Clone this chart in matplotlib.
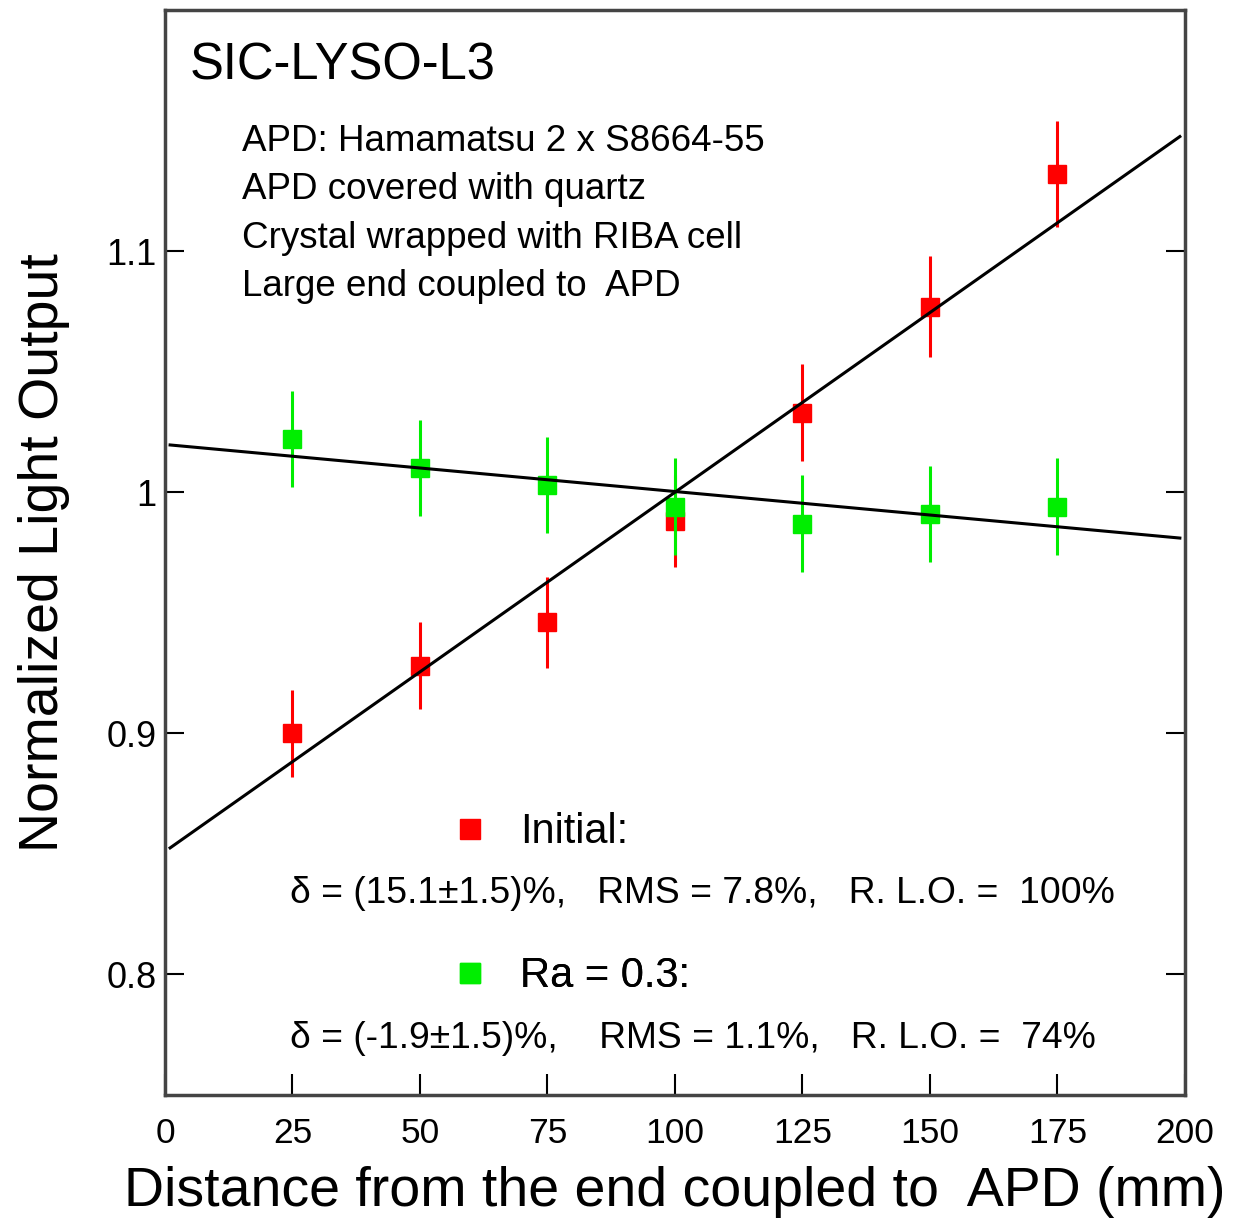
import matplotlib
matplotlib.use('Agg')
import matplotlib.pyplot as plt
from matplotlib.lines import Line2D
import numpy as np

plt.rcParams['font.family'] = ['Liberation Sans', 'DejaVu Sans']

# positions along the crystal (mm)
distance = [25, 50, 75, 100, 125, 150, 175]

# normalized light output, initial state
lo_initial = [0.900, 0.928, 0.946, 0.988, 1.033, 1.077, 1.132]
err_initial = [0.018, 0.018, 0.019, 0.019, 0.020, 0.021, 0.022]

# normalized light output after roughening (Ra = 0.3)
lo_ra03 = [1.022, 1.010, 1.003, 0.994, 0.987, 0.991, 0.994]
err_ra03 = [0.020, 0.020, 0.020, 0.020, 0.020, 0.020, 0.020]

# linear fits: intercept, slope
fit_initial = (0.851, 0.00149)
fit_ra03 = (1.0198, -0.000195)
fit_range = (1, 199)

info_lines = ['APD: Hamamatsu 2 x S8664-55',
              'APD covered with quartz',
              'Crystal wrapped with RIBA cell',
              'Large end coupled to  APD']
stats_initial = '\u03b4 = (15.1\u00b11.5)%,   RMS = 7.8%,   R. L.O. =  100%'
stats_ra03 = '\u03b4 = (-1.9\u00b11.5)%,    RMS = 1.1%,   R. L.O. =  74%'

red = '#ff0000'
green = '#00ee00'

fig = plt.figure(figsize=(12.36, 12.19), dpi=100)
ax = fig.add_axes([0.1335, 0.1017, 0.8252, 0.8901])

ax.errorbar(distance, lo_initial, yerr=err_initial, fmt='s', color=red,
            ms=13.5, elinewidth=2.2, capsize=0, zorder=3)
ax.errorbar(distance, lo_ra03, yerr=err_ra03, fmt='s', color=green,
            ms=13.5, elinewidth=2.2, capsize=0, zorder=4)

xs = np.array(fit_range)
for a, b in (fit_initial, fit_ra03):
    ax.plot(xs, a + b * xs, color='black', lw=2.2, zorder=5)

ax.set_xlim(0, 200)
ax.set_ylim(0.75, 1.2)
ax.set_xticks([0, 25, 50, 75, 100, 125, 150, 175, 200])
ax.set_yticks([0.8, 0.9, 1.0, 1.1])
ax.set_yticklabels(['0.8', '0.9', '1', '1.1'])
ax.tick_params(axis='x', direction='in', length=15, width=1.5, labelsize=25.5, pad=16)
ax.tick_params(axis='y', direction='in', length=14, width=1.5, labelsize=26, pad=6,
               right=True)
for sp in ax.spines.values():
    sp.set_color('#444444')
    sp.set_linewidth(2.5)

ax.set_xlabel('Distance from the end coupled to  APD (mm)', fontsize=40, labelpad=11)
ax.set_ylabel('Normalized Light Output', fontsize=40, labelpad=26)

ax.text(0.0245, 0.9355, 'SIC-LYSO-L3', transform=ax.transAxes, fontsize=36.5,
        va='baseline')
for i, line in enumerate(info_lines):
    ax.text(0.0755, 0.870 - i * 0.0445, line, transform=ax.transAxes, fontsize=26.5,
            va='baseline')

# legend entries with the fit summary below each one
for color, label, ypos in ((red, 'Initial:', 0.242), (green, 'Ra = 0.3:', 0.1095)):
    handle = Line2D([], [], marker='s', ls='none', color=color, ms=15)
    leg = ax.legend([handle], [label], loc='center left',
                    bbox_to_anchor=(0.279, ypos), frameon=False, fontsize=30,
                    handlelength=1.0, handletextpad=0.7, borderpad=0,
                    borderaxespad=0, numpoints=1)
    ax.add_artist(leg)

ax.text(0.1225, 0.177, stats_initial, transform=ax.transAxes, fontsize=26.8,
        va='baseline')
ax.text(0.1225, 0.0433, stats_ra03, transform=ax.transAxes, fontsize=26.8,
        va='baseline')

fig.savefig('out.png', dpi=100)
